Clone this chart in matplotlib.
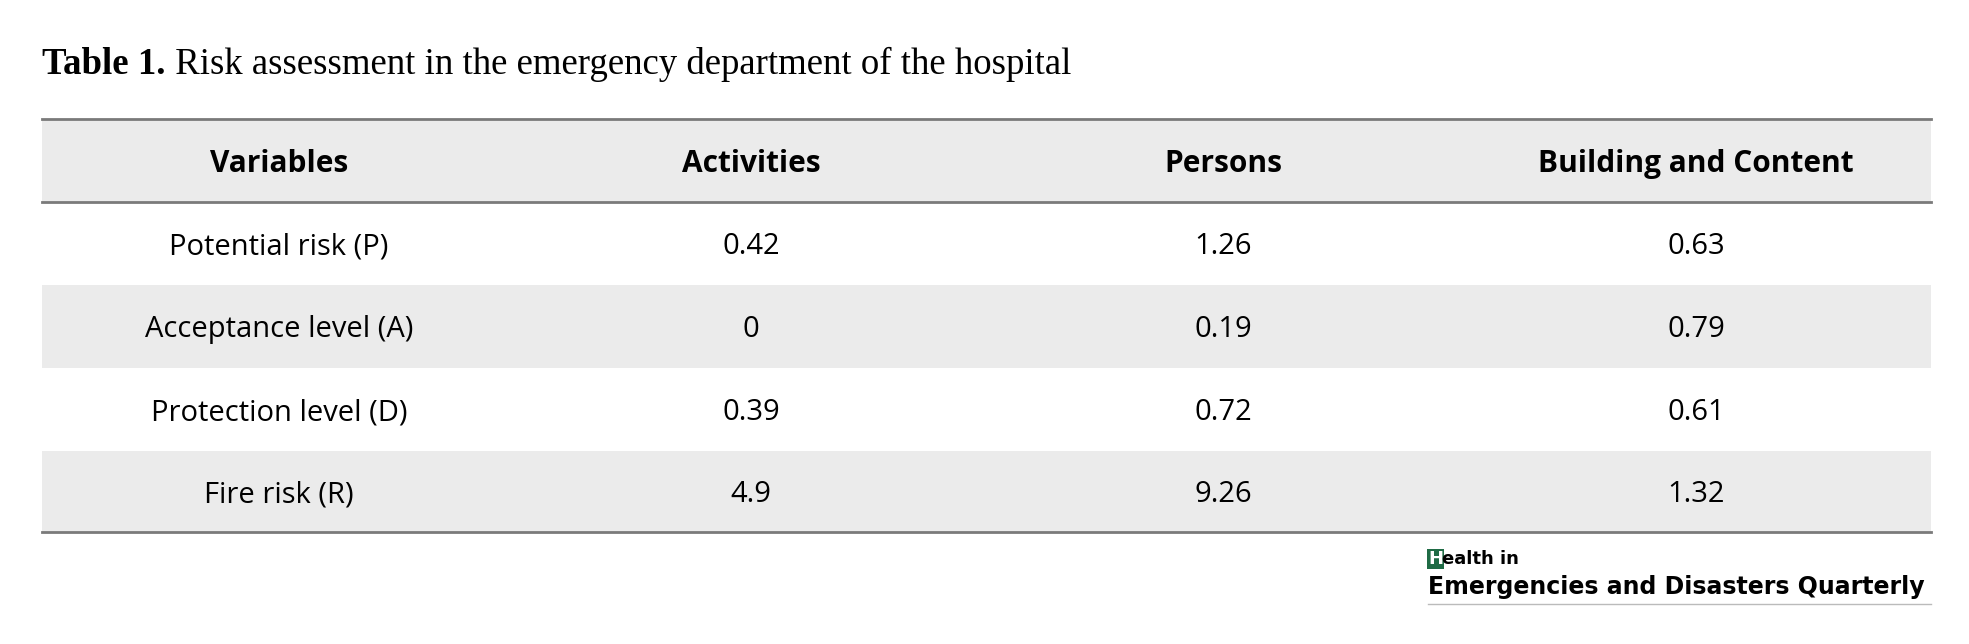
import matplotlib.pyplot as plt
from matplotlib.patches import Rectangle

columns = ['Variables', 'Activities', 'Persons', 'Building and Content']
variables = ['Potential risk (P)', 'Acceptance level (A)', 'Protection level (D)', 'Fire risk (R)']
activities = ['0.42', '0', '0.39', '4.9']
persons = ['1.26', '0.19', '0.72', '9.26']
building = ['0.63', '0.79', '0.61', '1.32']

W, H = 1969, 644
fig = plt.figure(figsize=(W / 100, H / 100), dpi=100)
ax = fig.add_axes([0, 0, 1, 1])
ax.set_xlim(0, W)
ax.set_ylim(H, 0)
ax.axis('off')

left, right = 42, 1931
col_x = [279, 751, 1223, 1696]
row_edges = [119, 202, 285, 368, 451, 532]
grey = '#ebebeb'
font = 'Open Sans'

# title
t = ax.text(left, 74, 'Table 1.', fontsize=26.5, fontweight='bold', family='Liberation Serif',
            va='baseline')
ax.annotate(' Risk assessment in the emergency department of the hospital', xy=(1, 0),
            xycoords=t, va='bottom', fontsize=26.5, family='Liberation Serif')

# shaded rows: header, 2nd and 4th
for i in (0, 2, 4):
    ax.add_patch(Rectangle((left, row_edges[i]), right - left, row_edges[i + 1] - row_edges[i],
                           color=grey, lw=0, zorder=0))
for y in (row_edges[0], row_edges[1], row_edges[-1]):
    ax.plot([left, right], [y, y], color='#7a7a7a', lw=2)

hy = (row_edges[0] + row_edges[1]) / 2 + 3
for x, c in zip(col_x, columns):
    ax.text(x, hy, c, ha='center', va='center', fontsize=21.5, fontweight='bold', family=font)

rows = list(zip(variables, activities, persons, building))
for i, row in enumerate(rows):
    y = (row_edges[i + 1] + row_edges[i + 2]) / 2 + 3
    for x, v in zip(col_x, row):
        ax.text(x, y, v, ha='center', va='center', fontsize=21, family=font)

# journal logo
green = '#1f6b45'
ax.text(1428, 564, 'H', fontsize=13, fontweight='bold', family='DejaVu Sans', va='baseline',
        color='white', bbox=dict(boxstyle='square,pad=0.05', fc=green, ec='none'))
ax.text(1442, 564, 'ealth in', fontsize=13, fontweight='bold', family='DejaVu Sans', va='baseline')
ax.text(1428, 594, 'Emergencies and Disasters Quarterly', fontsize=17, fontweight='bold',
        family='DejaVu Sans', va='baseline')
ax.plot([1428, 1931], [604, 604], color='#bbbbbb', lw=1)

fig.savefig('out.png', dpi=100)
